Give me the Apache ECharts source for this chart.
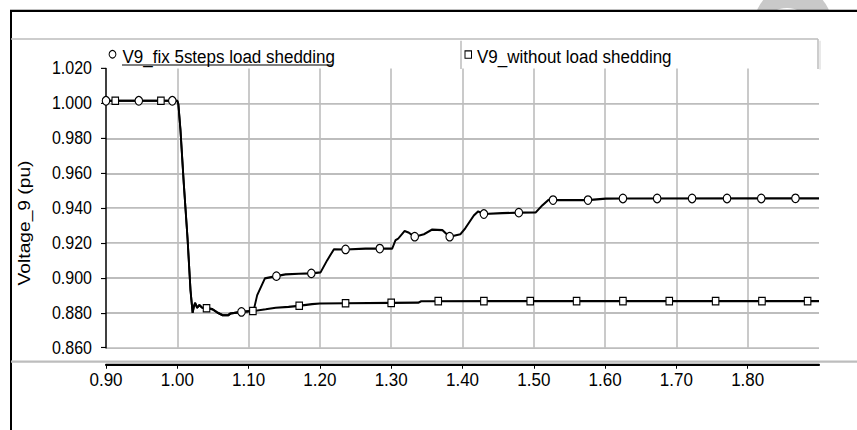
<!DOCTYPE html>
<html>
<head>
<meta charset="utf-8">
<script src="https://cdn.jsdelivr.net/npm/echarts@6/dist/echarts.min.js"></script>
<style>
  html, body { margin: 0; padding: 0; background: #fff; overflow: hidden; }
  #wrap { width: 857px; height: 430px; overflow: hidden; }
  /* the plot is laid out on a 381px tall canvas and stretched to 430px */
  #chart { width: 857px; height: 381px; transform: scaleY(1.13); transform-origin: 0 0; }
</style>
</head>
<body>
<div id="wrap"><div id="chart"></div></div>
<script>
// time axis (s)
const xTicks = { min: 0.9, max: 1.9, step: 0.1 };
// voltage axis (pu)
const yTicks = { min: 0.86, max: 1.02, step: 0.02 };

const seriesNames = ['V9_fix 5steps load shedding', 'V9_without load shedding'];
const yAxisTitle = 'Voltage_9 (pu)';

// bus 9 voltage, common part (fault and initial sag)
const commonPart = [
  [0.900, 1.0015], [1.000, 1.0015], [1.0015, 0.9995], [1.0044, 0.9850],
  [1.0091, 0.9540], [1.0143, 0.9230], [1.0185, 0.8930], [1.0215, 0.8800],
  [1.0235, 0.8840], [1.0250, 0.8856], [1.0278, 0.8829], [1.0310, 0.8844],
  [1.0350, 0.8829], [1.0410, 0.8826], [1.0490, 0.8821], [1.0560, 0.8802],
  [1.0630, 0.8787], [1.0713, 0.8786], [1.0746, 0.8796], [1.0900, 0.8805],
  [1.1050, 0.8810]
];

// with 5-step load shedding
const fixShedTail = [
  [1.1073, 0.8818], [1.1120, 0.8900], [1.1228, 0.8997], [1.1387, 0.9010],
  [1.1518, 0.9020], [1.1705, 0.9024], [1.1883, 0.9026], [1.2010, 0.9032],
  [1.2102, 0.9101], [1.2196, 0.9164], [1.2360, 0.9163], [1.2640, 0.9168],
  [1.2850, 0.9168], [1.3014, 0.9168], [1.3060, 0.9216], [1.3098, 0.9225],
  [1.3188, 0.9269], [1.3250, 0.9258], [1.3330, 0.9236], [1.3459, 0.9250],
  [1.3575, 0.9277], [1.3718, 0.9274], [1.3763, 0.9257], [1.3820, 0.9236],
  [1.3970, 0.9250], [1.4040, 0.9285], [1.4160, 0.9358], [1.4220, 0.9381],
  [1.4300, 0.9366], [1.4557, 0.9371], [1.4790, 0.9374], [1.5026, 0.9375],
  [1.5120, 0.9416], [1.5210, 0.9448], [1.5270, 0.9446], [1.5756, 0.9446],
  [1.6010, 0.9454], [1.6247, 0.9455], [1.9000, 0.9456]
];

// without load shedding
const noShedTail = [
  [1.1070, 0.8810], [1.1240, 0.8820], [1.1380, 0.8829], [1.1560, 0.8834],
  [1.1700, 0.8840], [1.1890, 0.8850], [1.2000, 0.8853], [1.2360, 0.8855],
  [1.3000, 0.8857], [1.3380, 0.8858], [1.3420, 0.8866], [1.4500, 0.8867],
  [1.9000, 0.8867]
];

// marker positions along each trace
const fixShedMarks = [
  [0.900, 1.0015], [0.946, 1.0015], [0.993, 1.0015], [1.090, 0.8805],
  [1.139, 0.9010], [1.188, 0.9026], [1.236, 0.9163], [1.284, 0.9168],
  [1.333, 0.9236], [1.382, 0.9236], [1.430, 0.9366], [1.479, 0.9374],
  [1.527, 0.9446], [1.576, 0.9446], [1.625, 0.9455], [1.673, 0.9455],
  [1.722, 0.9455], [1.771, 0.9455], [1.819, 0.9455], [1.867, 0.9456]
];
const noShedMarks = [
  [0.913, 1.0015], [0.977, 1.0015], [1.041, 0.8826], [1.106, 0.8810],
  [1.171, 0.8840], [1.236, 0.8855], [1.300, 0.8857], [1.366, 0.8867],
  [1.430, 0.8867], [1.495, 0.8867], [1.560, 0.8867], [1.625, 0.8867],
  [1.690, 0.8867], [1.755, 0.8867], [1.820, 0.8867], [1.884, 0.8867]
];

const fixShedLine = commonPart.concat(fixShedTail);
const noShedLine = commonPart.concat(noShedTail);

const FONT = "'Liberation Sans', Arial, sans-serif";
const GRID_COLOR = '#bdbdbd';

const chart = echarts.init(document.getElementById('chart'), null, { renderer: 'svg' });

const traceStyle = { color: '#000', width: 1.9 };

chart.setOption({
  animation: false,
  backgroundColor: 'transparent',
  grid: { left: 106, right: 38, top: 60.6, height: 247.1, containLabel: false },
  xAxis: {
    type: 'value',
    min: xTicks.min, max: xTicks.max, interval: xTicks.step,
    offset: 14.7,
    axisLine: { onZero: false, lineStyle: { color: '#000', width: 2 } },
    axisTick: { show: true, length: 4, lineStyle: { color: '#000', width: 1 } },
    axisLabel: {
      showMaxLabel: false, margin: 5, fontSize: 17, color: '#000', fontFamily: FONT,
      formatter: v => v.toFixed(2)
    },
    splitLine: { show: true, showMinLine: false, showMaxLine: false,
                 lineStyle: { color: GRID_COLOR, width: 1.6 } }
  },
  yAxis: {
    type: 'value',
    min: yTicks.min, max: yTicks.max, interval: yTicks.step,
    axisLine: { show: true, onZero: false, lineStyle: { color: '#000', width: 1.5 } },
    axisTick: { show: true, length: 5, lineStyle: { color: '#000', width: 1 } },
    axisLabel: {
      margin: 14, fontSize: 16, color: '#000', fontFamily: FONT,
      formatter: v => v.toFixed(3)
    },
    splitLine: { show: true, showMinLine: true, showMaxLine: false,
                 lineStyle: { color: GRID_COLOR, width: 1.6 } }
  },
  series: [
    { name: seriesNames[1], type: 'line', data: noShedLine, symbol: 'none',
      lineStyle: traceStyle, z: 3 },
    { name: seriesNames[0], type: 'line', data: fixShedLine, symbol: 'none',
      lineStyle: traceStyle, z: 3 },
    { name: seriesNames[1] + ' markers', type: 'scatter', data: noShedMarks,
      symbol: 'rect', symbolSize: 6.5, clip: false,
      itemStyle: { color: '#fff', borderColor: '#000', borderWidth: 1.1, opacity: 1 }, z: 5 },
    { name: seriesNames[0] + ' markers', type: 'scatter', data: fixShedMarks,
      symbol: 'circle', symbolSize: 7.5, clip: false,
      itemStyle: { color: '#fff', borderColor: '#000', borderWidth: 1.1, opacity: 1 }, z: 5 }
  ],
  graphic: [
    // faint round logo behind the top edge of the frame
    { type: 'circle', shape: { cx: 793, cy: 27.5, r: 40.5 }, style: { fill: '#c9c9c9' }, z: -30, silent: true },
    { type: 'circle', shape: { cx: 787, cy: 35.4, r: 28.3 }, style: { fill: '#fff' }, z: -29, silent: true },
    // outer frame
    { type: 'rect', shape: { x: 11, y: 9.7, width: 1000, height: 1000 },
      style: { fill: '#fff', stroke: '#000', lineWidth: 2 }, z: -20, silent: true },
    // header rule and legend box
    { type: 'line', shape: { x1: 11, y1: 34.5, x2: 818, y2: 34.5 }, style: { stroke: GRID_COLOR, lineWidth: 1.5 }, z: 10 },
    { type: 'line', shape: { x1: 818, y1: 34.5, x2: 818, y2: 61 }, style: { stroke: GRID_COLOR, lineWidth: 1.5 }, z: 10 },
    { type: 'line', shape: { x1: 820, y1: 36, x2: 820, y2: 61.5 }, style: { stroke: '#e2e2e2', lineWidth: 1.5 }, z: 10 },
    { type: 'line', shape: { x1: 461, y1: 36, x2: 461, y2: 61 }, style: { stroke: GRID_COLOR, lineWidth: 1.5 }, z: 10 },
    // legend entries
    { type: 'circle', shape: { cx: 112.5, cy: 48, r: 3.4 }, style: { fill: '#fff', stroke: '#000', lineWidth: 1 }, z: 10 },
    { type: 'text', x: 122.5, y: 50.2,
      style: { text: seriesNames[0], fontSize: 17, fontFamily: FONT, fill: '#000', align: 'left', verticalAlign: 'middle' }, z: 10 },
    { type: 'line', shape: { x1: 122, y1: 57.5, x2: 333, y2: 57.5 }, style: { stroke: '#000', lineWidth: 1 }, z: 10 },
    { type: 'rect', shape: { x: 465, y: 45, width: 6.5, height: 6.5 }, style: { fill: '#fff', stroke: '#000', lineWidth: 1 }, z: 10 },
    { type: 'text', x: 477, y: 50.2,
      style: { text: seriesNames[1], fontSize: 17, fontFamily: FONT, fill: '#000', align: 'left', verticalAlign: 'middle' }, z: 10 },
    // y axis title
    { type: 'text', x: 24, y: 197.3, rotation: Math.PI / 2,
      style: { text: yAxisTitle, fontSize: 17, fontFamily: FONT, fill: '#000', align: 'center', verticalAlign: 'middle' }, z: 10 },
    // rule between plot and time axis
    { type: 'line', shape: { x1: 11, y1: 320.1, x2: 857, y2: 320.1 }, style: { stroke: GRID_COLOR, lineWidth: 2 }, z: 1 }
  ]
});
</script>
</body>
</html>
